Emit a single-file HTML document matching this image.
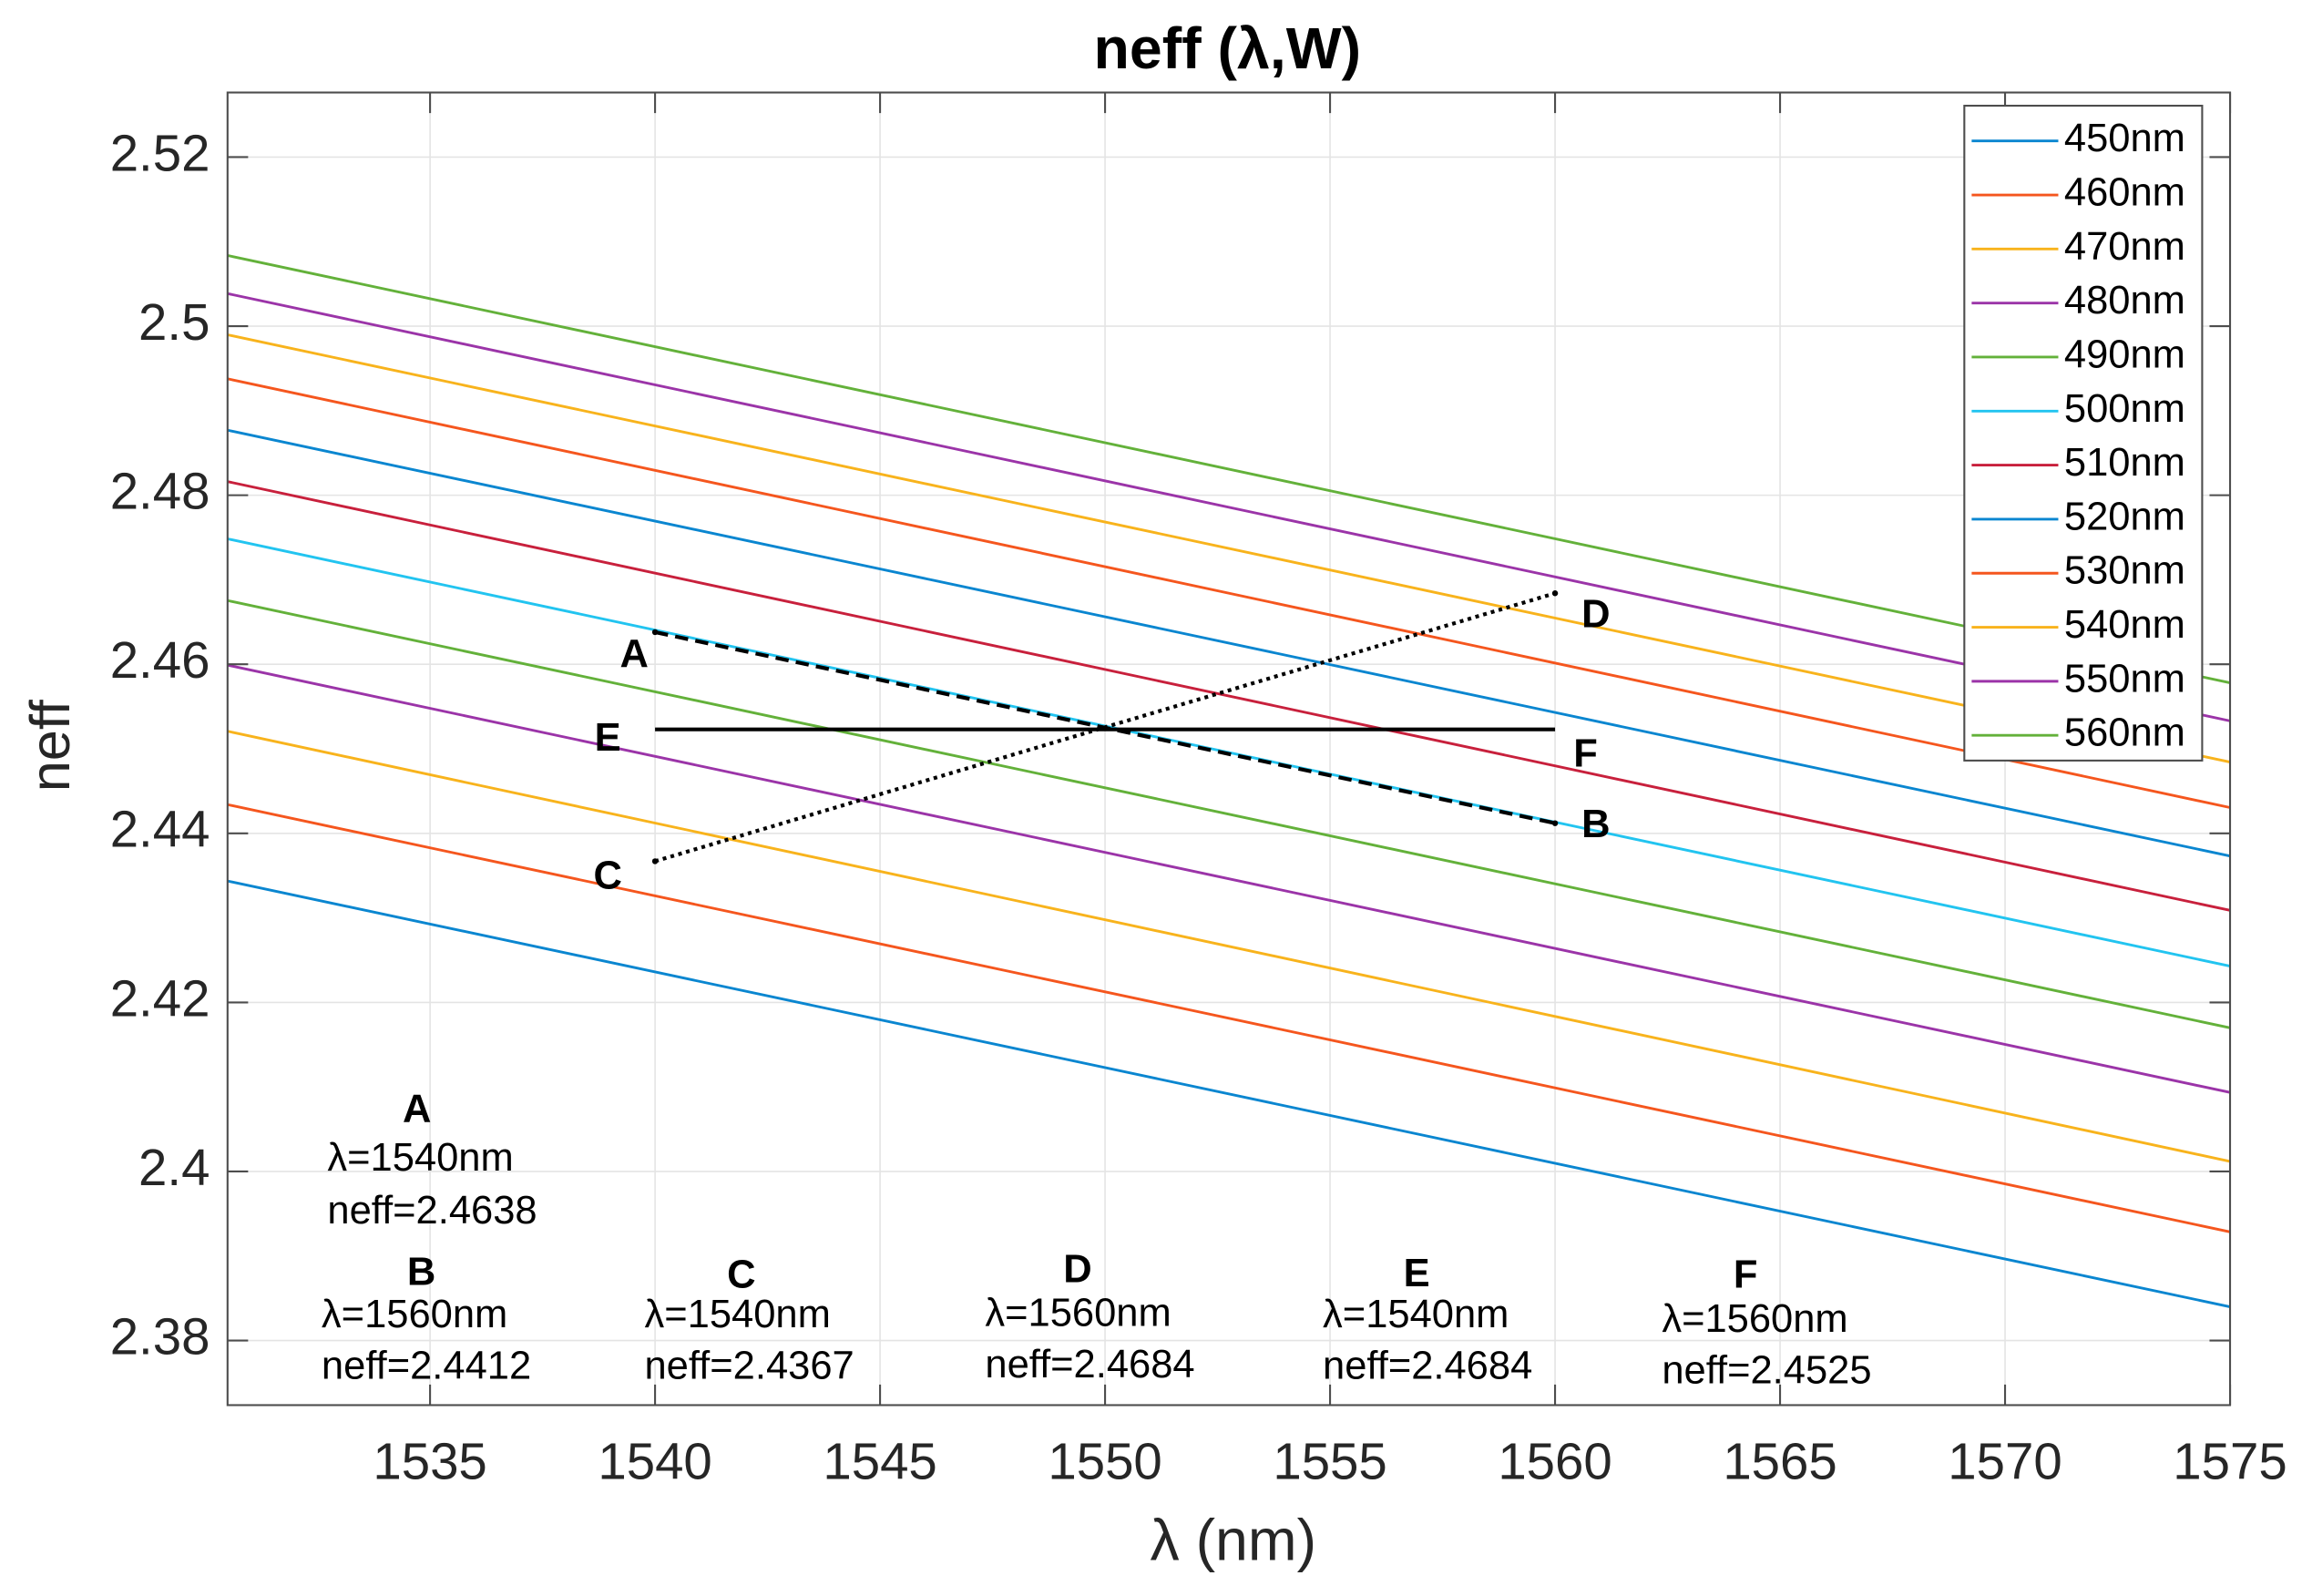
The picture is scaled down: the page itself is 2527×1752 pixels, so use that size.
<!DOCTYPE html>
<html><head><meta charset="utf-8"><style>
html,body{margin:0;padding:0;background:#fff;}
svg{display:block;font-family:"Liberation Sans",sans-serif;}
</style></head><body>
<svg id="chart" width="2527" height="1752" viewBox="0 0 1568 1087" preserveAspectRatio="none" xmlns="http://www.w3.org/2000/svg"></svg>
<script>
const widths = ["450nm","460nm","470nm","480nm","490nm","500nm","510nm","520nm","530nm","540nm","550nm","560nm"];
const lambdaStart = 1530.5;
const lambdaEnd = 1575;
const neffStart = [2.43436,2.44340,2.45208,2.45990,2.46754,2.47484,2.48161,2.48769,2.49377,2.49898,2.50385,2.50836];
const neffEnd = [2.38399,2.39285,2.40119,2.40935,2.41699,2.42429,2.43089,2.43732,2.44305,2.44843,2.45330,2.45781];
const colors = ["#0a86d0","#f5561e","#f8b31c","#9b34a8","#63b13a","#22c4f0","#c8203c","#0a86d0","#f5561e","#f8b31c","#9b34a8","#63b13a"];
const xTicks = [1535,1540,1545,1550,1555,1560,1565,1570,1575];
const yTicks = [2.38,2.40,2.42,2.44,2.46,2.48,2.50,2.52];
const yTickLabels = ["2.38","2.4","2.42","2.44","2.46","2.48","2.5","2.52"];
const pointNames = ["A","B","C","D","E","F"];
const pointLambda = [1540,1560,1540,1560,1540,1560];
const pointNeff = [2.4638,2.4412,2.4367,2.4684,2.4684,2.4525];

const NS="http://www.w3.org/2000/svg";
const svg=document.getElementById('chart');
const L=155,R=1519,T=63,B=957;
const xMin=1530.5,xMax=1575,yMin=2.37236,yMax=2.52764;
function sx(v){return L+(v-xMin)/(xMax-xMin)*(R-L);}
function sy(v){return B-(v-yMin)/(yMax-yMin)*(B-T);}
function mk(tag,attrs,parent){const e=document.createElementNS(NS,tag);for(const k in attrs)e.setAttribute(k,attrs[k]);(parent||svg).appendChild(e);return e;}
function txt(s,attrs){const e=mk('text',attrs);e.textContent=s;return e;}

xTicks.forEach(t=>{const g=mk('line',{x1:sx(t),x2:sx(t),y1:T,y2:B,stroke:'#e4e4e4','stroke-width':1});

});
yTicks.forEach(t=>{const g=mk('line',{x1:L,x2:R,y1:sy(t),y2:sy(t),stroke:'#e4e4e4','stroke-width':1});

});

widths.forEach((w,i)=>{const l=mk('line',{x1:sx(lambdaStart),y1:sy(neffStart[i]),x2:sx(lambdaEnd),y2:sy(neffEnd[i]),stroke:colors[i],'stroke-width':1.8});

});

function seg(a,b,dash,name){const l=mk('line',{x1:sx(pointLambda[a]),y1:sy(pointNeff[a]),x2:sx(pointLambda[b]),y2:sy(pointNeff[b]),stroke:'#000','stroke-width':2.6});
if(dash)l.setAttribute('stroke-dasharray',dash);


[a,b].forEach(p=>{const c=mk('circle',{cx:sx(pointLambda[p]),cy:sy(pointNeff[p]),r:2,fill:'#000'});

});}
seg(0,1,'9,5','line-A-B');
seg(2,3,'2.5,3','line-C-D');
const ef=mk('line',{x1:sx(1540),y1:sy(2.4523),x2:sx(1560),y2:sy(2.4523),stroke:'#000','stroke-width':2.6});



const lblPos=[[432,447],[1087,563],[414,598],[1087,420],[414,504],[1080,515]];
pointNames.forEach((n,i)=>{const t=txt(n,{x:lblPos[i][0],y:lblPos[i][1],'font-size':27,'font-weight':'bold','text-anchor':'middle','dominant-baseline':'middle'});

});

const annPos=[[284,757,223,790,826],[287,868,219,897,932],[505,870,439,897,932],[734,866,671,896,931],[965,869,901,897,932],[1189,870,1132,900,935]];
pointNames.forEach((n,i)=>{const p=annPos[i];
const h=txt(n,{x:p[0],y:p[1],'font-size':27,'font-weight':'bold','text-anchor':'middle','dominant-baseline':'middle'});


const a=txt('λ='+pointLambda[i]+'nm',{x:p[2],y:p[3],'font-size':27,'dominant-baseline':'middle'});


const b=txt('neff='+pointNeff[i].toFixed(4),{x:p[2],y:p[4],'font-size':27,'dominant-baseline':'middle'});

});

const box=mk('rect',{x:L,y:T,width:R-L,height:B-T,fill:'none',stroke:'#4d4d4d','stroke-width':1.3});


xTicks.forEach(t=>{mk('line',{x1:sx(t),x2:sx(t),y1:B,y2:B-14,stroke:'#4d4d4d','stroke-width':1.3});mk('line',{x1:sx(t),x2:sx(t),y1:T,y2:T+14,stroke:'#4d4d4d','stroke-width':1.3});
const e=txt(String(t),{x:sx(t),y:998,'font-size':35,'text-anchor':'middle','dominant-baseline':'middle',fill:'#262626'});

});
yTicks.forEach((t,i)=>{mk('line',{x1:L,x2:L+14,y1:sy(t),y2:sy(t),stroke:'#4d4d4d','stroke-width':1.3});mk('line',{x1:R,x2:R-14,y1:sy(t),y2:sy(t),stroke:'#4d4d4d','stroke-width':1.3});
const e=txt(yTickLabels[i],{x:143,y:sy(t),'font-size':35,'text-anchor':'end','dominant-baseline':'middle',fill:'#262626'});

});

const ti=txt('neff (λ,W)',{x:836,y:36,'font-size':40,'font-weight':'bold','text-anchor':'middle','dominant-baseline':'middle'});


const yl=txt('neff',{x:0,y:0,'font-size':38,'text-anchor':'middle','dominant-baseline':'middle',fill:'#262626',transform:'translate(37,508) rotate(-90)'});


const xl=txt('λ  (nm)',{x:840,y:1052,'font-size':40,'text-anchor':'middle','dominant-baseline':'middle',fill:'#262626'});



const lg=mk('rect',{x:1338,y:72,width:162,height:446,fill:'#fff',stroke:'#4d4d4d','stroke-width':1.3});


widths.forEach((w,i)=>{const y=96+i*36.8;
const l=mk('line',{x1:1343,x2:1402,y1:y,y2:y,stroke:colors[i],'stroke-width':1.8});


const e=txt(w,{x:1406,y:y,'font-size':27,'dominant-baseline':'middle',fill:'#000'});

});
</script>
</body></html>
